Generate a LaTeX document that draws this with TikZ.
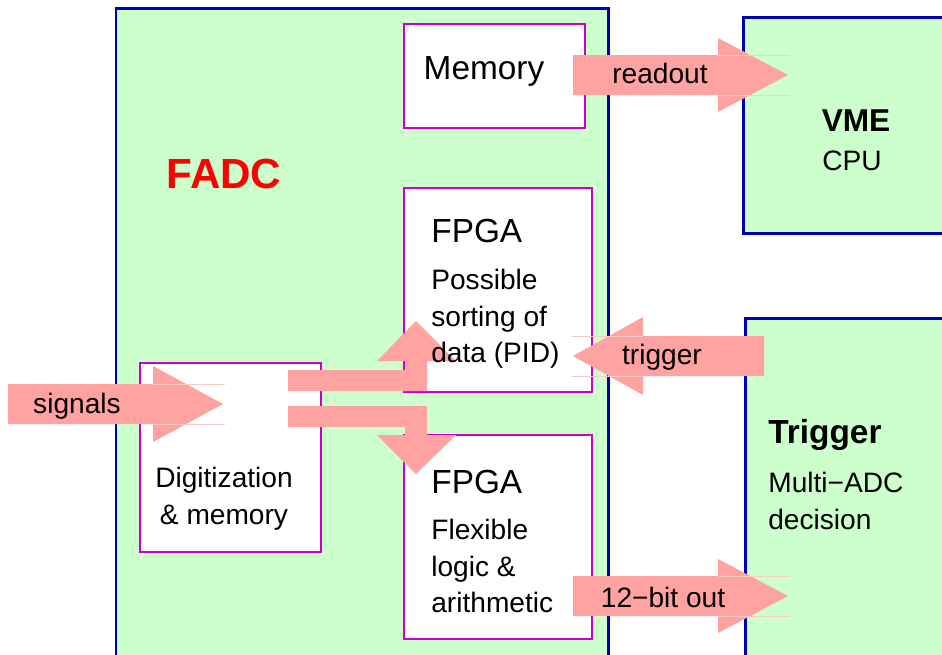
\documentclass[tikz,border=0pt]{standalone}
\usepackage{fontspec}
\setmainfont{Liberation Sans}
\definecolor{fadcgreen}{RGB}{204,255,204}
\definecolor{boxblue}{RGB}{0,0,180}
\definecolor{boxmag}{RGB}{204,0,204}
\definecolor{arrowpink}{RGB}{255,162,162}
\definecolor{seampink}{RGB}{255,200,200}
\begin{document}
\begin{tikzpicture}[line join=miter,x=0.02cm,y=-0.02cm,
	outerbox/.style={draw=boxblue,line width=1.7pt,fill=fadcgreen},
	innerbox/.style={draw=boxmag,line width=1.3pt,fill=white},
	blockarrow/.style={fill=arrowpink},
	seam/.style={draw=seampink,line width=0.5pt},
	bigtxt/.style={inner sep=0pt,font=\fontsize{19pt}{23pt}\selectfont},
	txt/.style={inner sep=0pt,font=\fontsize{16pt}{20.8pt}\selectfont}]
		\useasboundingbox (0,0) rectangle (942,654);
		\clip (0,0) rectangle (942,654);
		\draw [outerbox] (116,8) rectangle (608,680);
		\draw [outerbox] (743,17) rectangle (980,233);
		\draw [outerbox] (745,318) rectangle (980,680);
		\draw [innerbox] (404,24) rectangle (585,128);
		\draw [innerbox] (404,188) rectangle (592,392);
		\draw [innerbox] (404,435) rectangle (592,639);
		\draw [innerbox] (140,363) rectangle (321,552);
		\fill [blockarrow] (8,384) -- (153,384) -- (153,366) -- (223,404) -- (153,442) -- (153,424) -- (8,424) -- cycle;
		\fill [blockarrow] (573,55) -- (718,55) -- (718,38) -- (788,75) -- (718,112) -- (718,95) -- (573,95) -- cycle;
		\fill [blockarrow] (573,576) -- (718,576) -- (718,559) -- (788,596) -- (718,633) -- (718,616) -- (573,616) -- cycle;
		\fill [blockarrow] (764,336) -- (643,336) -- (643,317) -- (573,356) -- (643,395) -- (643,376) -- (764,376) -- cycle;
		\fill [blockarrow] (288,370) -- (405,370) -- (405,361) -- (377,361) -- (416,321) -- (456,361) -- (427,361) -- (427,391) -- (288,391) -- cycle;
		\fill [blockarrow] (288,406) -- (427,406) -- (427,435) -- (456,435) -- (416,474) -- (377,435) -- (405,435) -- (405,427) -- (288,427) -- cycle;
		\draw [seam] (153,384) -- (225,384);
		\draw [seam] (153,424) -- (225,424);
		\draw [seam] (718,55) -- (790,55);
		\draw [seam] (718,95) -- (790,95);
		\draw [seam] (718,576) -- (790,576);
		\draw [seam] (718,616) -- (790,616);
		\draw [seam] (643,336) -- (571,336);
		\draw [seam] (643,376) -- (571,376);
		\node [anchor=base,inner sep=0pt,text=red,font=\fontsize{24pt}{28pt}\selectfont\bfseries] (fadc) at (224,188) {FADC};
		\node [bigtxt,anchor=base] (memory) at (484,79) {Memory};
		\node [bigtxt,anchor=base,font=\fontsize{18pt}{22pt}\selectfont\bfseries] (vme) at (856,131) {VME};
		\node [txt,anchor=base] (cpu) at (852,170) {CPU};
		\node [bigtxt,anchor=base west] (fpgaone) at (431,242) {FPGA};
		\node [txt,anchor=north west,align=left] (sorting) at (431,269) {Possible\\sorting of\\data (PID)};
		\node [bigtxt,anchor=base west] (fpgatwo) at (431,493) {FPGA};
		\node [txt,anchor=north west,align=left] (logic) at (431,519) {Flexible\\logic \&\\arithmetic};
		\node [txt,anchor=north,align=center] (digit) at (224,467) {Digitization\\\& memory};
		\node [bigtxt,anchor=base west,font=\fontsize{19pt}{23pt}\selectfont\bfseries] (trig) at (768,443) {Trigger};
		\node [txt,anchor=north west,align=left] (decision) at (768,472) {Multi−ADC\\decision};
		\node [txt,anchor=base] (signals) at (77,413) {signals};
		\node [txt,anchor=base] (readout) at (660,83) {readout};
		\node [txt,anchor=base] (trigger) at (662,364) {trigger};
		\node [txt,anchor=base] (bitout) at (663,607) {12−bit out};
		\end{tikzpicture}
\end{document}
